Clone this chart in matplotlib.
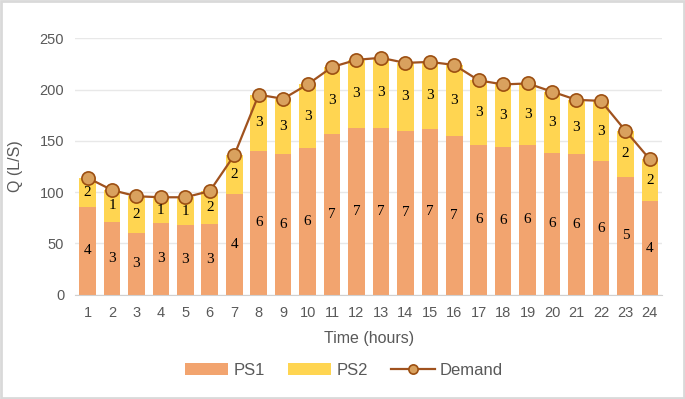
import numpy as np
import matplotlib.pyplot as plt
from matplotlib.patches import Rectangle

# hourly flows (L/s)
hours = np.arange(1, 25)
ps1 = [86, 71, 60, 70, 68, 69, 98, 140, 137, 143, 157, 163,
       163, 160, 162, 155, 146, 144, 146, 138, 137, 130, 115, 91]
demand = [114, 102, 96, 95, 95, 101, 136, 195, 191, 205, 222, 229,
          231, 226, 227, 224, 209, 205, 206, 198, 190, 189, 160, 132]
ps2 = [d - p for d, p in zip(demand, ps1)]

# number of pumps running at each station
n_ps1 = [4, 3, 3, 3, 3, 3, 4, 6, 6, 6, 7, 7, 7, 7, 7, 7, 6, 6, 6, 6, 6, 6, 5, 4]
n_ps2 = [2, 1, 2, 1, 1, 2, 2, 3, 3, 3, 3, 3, 3, 3, 3, 3, 3, 3, 3, 3, 3, 3, 2, 2]

c_ps1 = '#F2A46F'
c_ps2 = '#FFD551'
c_line = '#A0521E'
grey = '#595959'

plt.rcParams['font.family'] = ['Liberation Sans', 'DejaVu Sans']

fig = plt.figure(figsize=(6.85, 3.99), dpi=100)
ax = fig.add_axes([0.110, 0.2614, 0.8565, 0.6426])

b1 = ax.bar(hours, ps1, width=0.68, color=c_ps1, label='PS1', zorder=2)
b2 = ax.bar(hours, ps2, width=0.68, bottom=ps1, color=c_ps2, label='PS2', zorder=2)
ln, = ax.plot(hours, demand, color=c_line, lw=1.6, marker='o', ms=9.5,
              mfc='#D9A15E', mec='#9C4F12', mew=1.2, label='Demand', zorder=3)

for h, a, b, na, nb in zip(hours, ps1, ps2, n_ps1, n_ps2):
    ax.text(h, a / 2, str(na), ha='center', va='center', fontsize=11,
            family='Liberation Serif', color='black', zorder=4)
    ax.text(h, a + b / 2, str(nb), ha='center', va='center', fontsize=11,
            family='Liberation Serif', color='black', zorder=4)

ax.set_xlim(0.5, 24.5)
ax.set_ylim(0, 250)
ax.set_xticks(hours)
ax.set_yticks(range(0, 251, 50))
ax.yaxis.grid(True, color='#E8E8E8', lw=1, zorder=0)
ax.set_axisbelow(True)
for s in ['top', 'right', 'left']:
    ax.spines[s].set_visible(False)
ax.spines['bottom'].set_color('#D0D0D0')
ax.tick_params(axis='both', length=0, labelsize=10.5, colors=grey, pad=8)
ax.set_xlabel('Time (hours)', fontsize=11.5, color=grey, labelpad=8)
ax.set_ylabel('Q (L/S)', fontsize=11.5, color=grey, labelpad=12)

fig.legend([b1, b2, ln], ['PS1', 'PS2', 'Demand'], loc='center',
           bbox_to_anchor=(0.502, 0.072), ncol=3, frameon=False,
           fontsize=12, labelcolor=grey, handlelength=2.6, columnspacing=1.4,
           handletextpad=0.3, markerscale=0.7)

fig.patches.append(Rectangle((0.0015, 0.0025), 0.997, 0.995, transform=fig.transFigure,
                             fill=False, ec='#D9D9D9', lw=2))

fig.savefig('out.png', dpi=100)
